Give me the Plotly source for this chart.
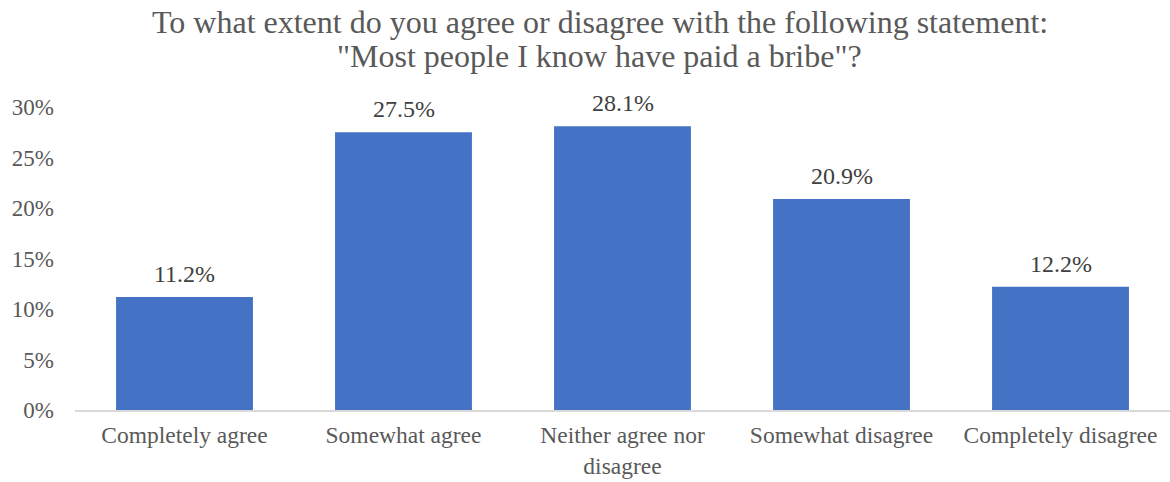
import plotly.graph_objects as go

categories = ["Completely agree", "Somewhat agree", "Neither agree nor<br>disagree",
              "Somewhat disagree", "Completely disagree"]
shares = [0.112, 0.275, 0.281, 0.209, 0.122]
tick_values = [0, 0.05, 0.10, 0.15, 0.20, 0.25, 0.30]
tick_labels = ["0%", "5%", "10%", "15%", "20%", "25%", "30%"]
title_lines = ["To what extent do you agree or disagree with the following statement:",
               "\"Most people I know have paid a bribe\"?"]

serif = "Liberation Serif, Times New Roman, serif"

fig = go.Figure(go.Bar(
    x=categories,
    y=shares,
    marker=dict(color="#4472C4", line=dict(width=0)),
    width=0.625,
))

# value labels above each bar
for cat, val in zip(categories, shares):
    fig.add_annotation(
        x=cat, y=val, xref="x", yref="y", text=f"{val*100:.1f}%",
        showarrow=False, xanchor="center", yanchor="bottom", yshift=8,
        font=dict(family=serif, size=24, color="#404040"),
    )

# two-line heading, placed as separate lines for tighter spacing
for line, ypos in zip(title_lines, [1.2805, 1.168]):
    fig.add_annotation(
        text=line, xref="paper", yref="paper", x=0.479, y=ypos,
        xanchor="center", yanchor="middle", showarrow=False,
        font=dict(family=serif, size=32, color="#595959"),
    )

fig.update_layout(
    width=1170, height=482,
    margin=dict(l=75, r=0, t=107, b=72),
    paper_bgcolor="white", plot_bgcolor="white",
    showlegend=False,
    xaxis=dict(
        showline=True, linecolor="#D9D9D9", linewidth=1.5,
        tickfont=dict(family=serif, size=23.5, color="#595959"),
        ticks="", showgrid=False, ticklabelstandoff=3,
    ),
    yaxis=dict(
        range=[0, 0.30], tickvals=tick_values, ticktext=tick_labels,
        tickfont=dict(family=serif, size=23, color="#595959"),
        showgrid=False, zeroline=False, showline=False,
        ticklabelstandoff=20,
    ),
    bargap=0.375,
)

fig.write_html("out.html")
